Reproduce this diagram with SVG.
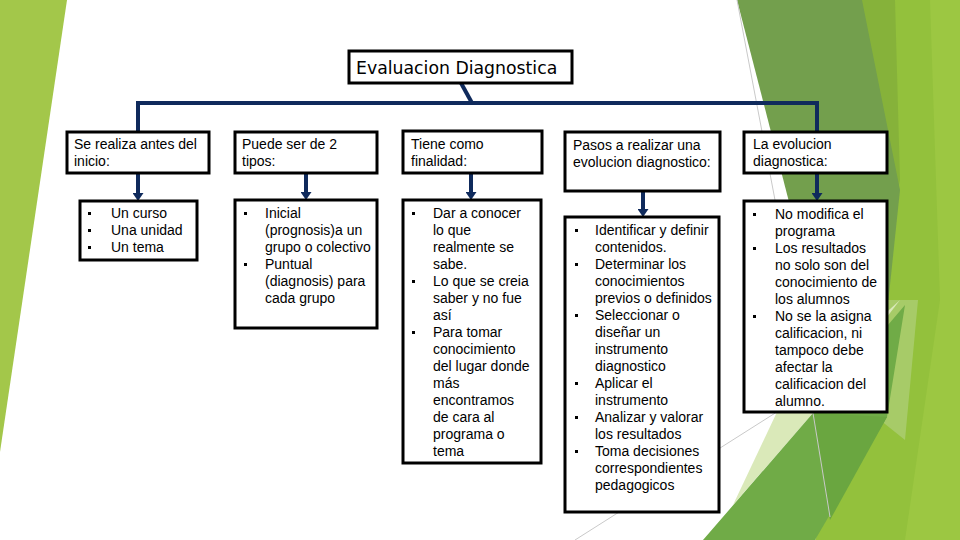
<svg xmlns="http://www.w3.org/2000/svg" width="960" height="540" viewBox="0 0 960 540">
<defs>
<style>
.box{fill:#fff;stroke:#000;stroke-width:3}
.t{font-family:"Liberation Sans",Arial,sans-serif;font-size:14px;fill:#000}
.title{font-family:"DejaVu Sans",Verdana,sans-serif;font-size:17.3px;fill:#000}
.con{stroke:#0f2a5c;stroke-width:4;fill:none}
.b{fill:#000}
.thin{stroke:#c9c9c9;stroke-width:1;fill:none}
</style>
<marker id="ah" markerUnits="userSpaceOnUse" markerWidth="8" markerHeight="11" refX="0" refY="5.5" orient="auto" viewBox="0 0 8 11">
<path d="M0,0 L8,5.5 L0,11 Z" fill="#0f2a5c"/>
</marker>
</defs>
<rect width="960" height="540" fill="#fff"/>
<g id="background">
<polygon points="0,0 67,0 0,452" fill="#a3c74a"/>
<polygon points="858,0 960,0 960,540 815,540 860,430" fill="#93c13c"/>
<polygon points="930,0 960,0 960,540 905,540 940,300" fill="#9cc742"/>
<polygon points="858,0 895,0 900,180 878,300" fill="#86b23a"/>
<polygon points="737,0 862,0 900,190 880,380 840,400" fill="#739f4d"/>
<polygon points="885,300 918,300 905,440 880,420" fill="#a7cb68"/>
<polygon points="777,412 900,300 813,413 733,505" fill="#dae9b9"/>
<polygon points="703,540 815,540 887,417 905,305 813,413" fill="#70ab47"/>
<polygon points="813,413 887,417 830,520" fill="#6aa640"/>
<line class="thin" x1="737" y1="0" x2="775" y2="200"/>
<line class="thin" x1="575" y1="540" x2="780" y2="410"/>
<line class="thin" x1="813" y1="413" x2="830" y2="517"/>
</g>
<g id="connectors">
<line class="con" x1="461" y1="83" x2="472" y2="103"/>
<polyline class="con" points="138,132 138,103 817,103 817,131"/>
<line class="con" x1="138" y1="173" x2="138" y2="193" marker-end="url(#ah)"/>
<line class="con" x1="306" y1="173" x2="306" y2="192" marker-end="url(#ah)"/>
<line class="con" x1="471" y1="173" x2="471" y2="192" marker-end="url(#ah)"/>
<line class="con" x1="643" y1="191" x2="643" y2="209" marker-end="url(#ah)"/>
<line class="con" x1="817" y1="173" x2="817" y2="193" marker-end="url(#ah)"/>
</g>
<g id="title">
<rect class="box" x="349" y="51" width="223" height="32"/>
<text class="title" x="356" y="74">Evaluacion Diagnostica</text>
</g>
<g id="n1">
<rect class="box" x="67" y="132" width="142" height="41"/>
<text class="t"><tspan x="74" y="149">Se realiza antes del</tspan><tspan x="74" y="166">inicio:</tspan></text>
</g>
<g id="n2">
<rect class="box" x="235" y="132" width="142" height="41"/>
<text class="t"><tspan x="242" y="149">Puede ser de 2</tspan><tspan x="242" y="166">tipos:</tspan></text>
</g>
<g id="n3">
<rect class="box" x="403" y="131" width="139" height="42"/>
<text class="t"><tspan x="411" y="149">Tiene como</tspan><tspan x="411" y="166">finalidad:</tspan></text>
</g>
<g id="n4">
<rect class="box" x="565" y="132" width="155" height="59"/>
<text class="t"><tspan x="573" y="150">Pasos a realizar una</tspan><tspan x="573" y="167">evolucion diagnostico:</tspan></text>
</g>
<g id="n5">
<rect class="box" x="744" y="132" width="143" height="41"/>
<text class="t"><tspan x="753" y="149">La evolucion</tspan><tspan x="753" y="166">diagnostica:</tspan></text>
</g>
<g id="n1b">
<rect class="box" x="80" y="201" width="117" height="59"/>
<rect class="b" x="88" y="212" width="3" height="3"/>
<rect class="b" x="88" y="229" width="3" height="3"/>
<rect class="b" x="88" y="246" width="3" height="3"/>
<text class="t"><tspan x="111" y="218">Un curso</tspan><tspan x="111" y="235">Una unidad</tspan><tspan x="111" y="252">Un tema</tspan></text>
</g>
<g id="n2b">
<rect class="box" x="235" y="200" width="142" height="128"/>
<rect class="b" x="244" y="212" width="3" height="3"/>
<rect class="b" x="244" y="263" width="3" height="3"/>
<text class="t"><tspan x="265" y="218">Inicial</tspan><tspan x="265" y="235">(prognosis)a un</tspan><tspan x="265" y="252">grupo o colectivo</tspan><tspan x="265" y="269">Puntual</tspan><tspan x="265" y="286">(diagnosis) para</tspan><tspan x="265" y="303">cada grupo</tspan></text>
</g>
<g id="n3b">
<rect class="box" x="403" y="200" width="138" height="263"/>
<rect class="b" x="412" y="212" width="3" height="3"/>
<rect class="b" x="412" y="280" width="3" height="3"/>
<rect class="b" x="412" y="331" width="3" height="3"/>
<text class="t"><tspan x="433" y="218">Dar a conocer</tspan><tspan x="433" y="235">lo que</tspan><tspan x="433" y="252">realmente se</tspan><tspan x="433" y="269">sabe.</tspan><tspan x="433" y="286">Lo que se creia</tspan><tspan x="433" y="303">saber y no fue</tspan><tspan x="433" y="320">así</tspan><tspan x="433" y="337">Para tomar</tspan><tspan x="433" y="354">conocimiento</tspan><tspan x="433" y="371">del lugar donde</tspan><tspan x="433" y="388">más</tspan><tspan x="433" y="405">encontramos</tspan><tspan x="433" y="422">de cara al</tspan><tspan x="433" y="439">programa o</tspan><tspan x="433" y="456">tema</tspan></text>
</g>
<g id="n4b">
<rect class="box" x="565" y="217" width="154" height="295"/>
<rect class="b" x="575" y="229" width="3" height="3"/>
<rect class="b" x="575" y="263" width="3" height="3"/>
<rect class="b" x="575" y="314" width="3" height="3"/>
<rect class="b" x="575" y="382" width="3" height="3"/>
<rect class="b" x="575" y="416" width="3" height="3"/>
<rect class="b" x="575" y="450" width="3" height="3"/>
<text class="t"><tspan x="595" y="235">Identificar  y definir</tspan><tspan x="595" y="252">contenidos.</tspan><tspan x="595" y="269">Determinar los</tspan><tspan x="595" y="286">conocimientos</tspan><tspan x="595" y="303">previos o definidos</tspan><tspan x="595" y="320">Seleccionar o</tspan><tspan x="595" y="337">diseñar un</tspan><tspan x="595" y="354">instrumento</tspan><tspan x="595" y="371">diagnostico</tspan><tspan x="595" y="388">Aplicar el</tspan><tspan x="595" y="405">instrumento</tspan><tspan x="595" y="422">Analizar y valorar</tspan><tspan x="595" y="439">los resultados</tspan><tspan x="595" y="456">Toma decisiones</tspan><tspan x="595" y="473">correspondientes</tspan><tspan x="595" y="490">pedagogicos</tspan></text>
</g>
<g id="n5b">
<rect class="box" x="744" y="201" width="143" height="211"/>
<rect class="b" x="753" y="213" width="3" height="3"/>
<rect class="b" x="753" y="247" width="3" height="3"/>
<rect class="b" x="753" y="315" width="3" height="3"/>
<text class="t"><tspan x="775" y="219">No modifica el</tspan><tspan x="775" y="236">programa</tspan><tspan x="775" y="253">Los resultados</tspan><tspan x="775" y="270">no solo son del</tspan><tspan x="775" y="287">conocimiento de</tspan><tspan x="775" y="304">los alumnos</tspan><tspan x="775" y="321">No se la asigna</tspan><tspan x="775" y="338">calificacion, ni</tspan><tspan x="775" y="355">tampoco debe</tspan><tspan x="775" y="372">afectar la</tspan><tspan x="775" y="389">calificacion del</tspan><tspan x="775" y="406">alumno.</tspan></text>
</g>
</svg>
